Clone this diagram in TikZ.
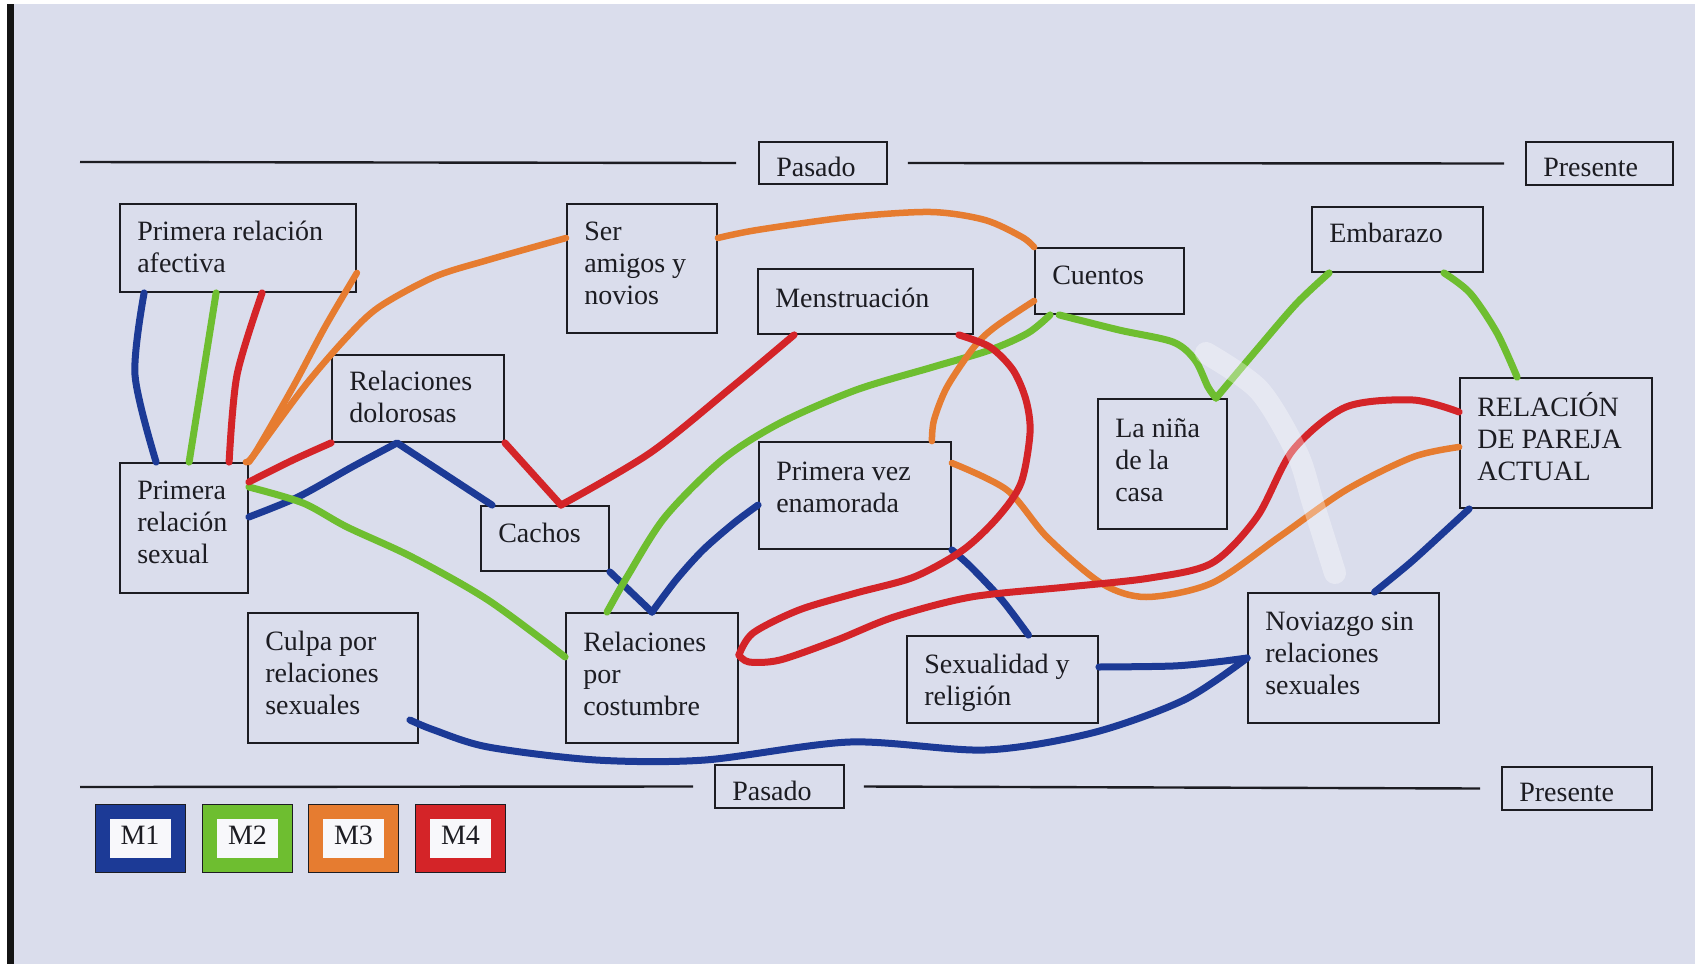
\documentclass[tikz,border=0pt]{standalone}
\usepackage{fontspec}
\setmainfont{Liberation Serif}
\usetikzlibrary{calc}
\definecolor{bg}{RGB}{218,221,236}
\definecolor{mblue}{RGB}{28,58,150}
\definecolor{mgreen}{RGB}{110,190,48}
\definecolor{morange}{RGB}{230,124,48}
\definecolor{mred}{RGB}{212,36,40}
\definecolor{ink}{RGB}{28,28,34}
\newcommand{\cnode}[7]{%
  \node[box, minimum width=#4pt, minimum height=#5pt] (#1) at (#2,#3) {};
  \node[lbl, anchor=west] (#1-t) at ([xshift=18pt,yshift=#6pt]#1.west) {#7};}
\begin{document}
\begin{tikzpicture}[x=1pt,y=-1pt,
  box/.style={draw=ink, line width=1.8pt, inner sep=0pt, anchor=center},
  lbl/.style={align=flush left, inner sep=0pt, font=\fontsize{28}{32}\selectfont, text=ink},
  tl/.style={draw=ink, line width=2.4pt},
  leg/.style={draw=#1, line width=14pt, minimum width=75pt, minimum height=53pt,
    inner sep=0pt, fill=white!80!bg, text=ink, font=\fontsize{28}{32}\selectfont,
    preaction={draw=ink, line width=16pt}},
  link/.style={line width=7pt, line cap=round, line join=round},
  b/.style={link, draw=mblue},
  g/.style={link, draw=mgreen},
  o/.style={link, draw=morange, line width=6.5pt},
  r/.style={link, draw=mred},
]
\useasboundingbox (0,0) rectangle (1695,964);
\fill[white] (0,0) rectangle (1695,964);
\fill[bg] (14,4) rectangle (1695,964);
\fill[black!92] (7,4) rectangle (14,964);

% time boxes
\cnode{pA}{823}{163}{128}{42}{-4.3}{Pasado}
\cnode{prA}{1599.5}{163.5}{147}{43}{-4.3}{Presente}
\cnode{pB}{779.5}{786.5}{129}{43}{-4.3}{Pasado}
\cnode{prB}{1577}{788.5}{150}{43}{-4.3}{Presente}
\coordinate (tA) at (80,162);
\coordinate (tB) at (80,787);
\draw[tl] (tA) -- ([xshift=-22pt]pA.west);
\draw[tl] ([xshift=20pt]pA.east) -- ([xshift=-21pt]prA.west);
\draw[tl] (tB) -- ([xshift=-21pt]pB.west);
\draw[tl] ([xshift=19pt]pB.east) -- ([xshift=-21pt]prB.west);

% concept boxes
\cnode{afe}{238}{248}{236}{88}{1}{Primera relación\\afectiva}
\cnode{ser}{642}{268.5}{150}{129}{5.4}{Ser\\amigos y\\novios}
\cnode{dol}{418}{398.5}{172}{87}{1.6}{Relaciones\\dolorosas}
\cnode{sex}{184}{528}{128}{130}{5.4}{Primera\\relación\\sexual}
\cnode{cac}{545}{538.5}{128}{65}{5.4}{Cachos}
\cnode{men}{865.5}{301.5}{215}{65}{3.2}{Menstruación}
\cnode{cue}{1109.5}{281}{149}{66}{5.4}{Cuentos}
\cnode{emb}{1397.5}{239.5}{171}{65}{6.5}{Embarazo}
\cnode{nin}{1162.5}{464}{129}{130}{4.3}{La niña\\de la\\casa}
\cnode{rel}{1556}{443}{192}{130}{6}{RELACIÓN\\DE PAREJA\\ACTUAL}
\cnode{pv}{855}{495.5}{192}{107}{8}{Primera vez\\enamorada}
\cnode{cos}{652}{678}{172}{130}{4.3}{Relaciones\\por\\costumbre}
\cnode{cul}{333}{678}{170}{130}{4.7}{Culpa por\\relaciones\\sexuales}
\cnode{sxr}{1002.5}{679.5}{191}{87}{-3.2}{Sexualidad y\\religión}
\cnode{nov}{1343.5}{658}{191}{130}{4.7}{Noviazgo sin\\relaciones\\sexuales}

% legend
\node[leg=mblue] (m1) at (140,838.5) {\raisebox{6pt}{M1}};
\node[leg=mgreen] (m2) at (247.5,838.5) {\raisebox{6pt}{M2}};
\node[leg=morange] (m3) at (353.5,838.5) {\raisebox{6pt}{M3}};
\node[leg=mred] (m4) at (460.5,838.5) {\raisebox{6pt}{M4}};

% M1 blue
\draw[b] plot[smooth] coordinates {([xshift=25pt]afe.south west) (135,375) ([xshift=37pt]sex.north west)};
\draw[b] plot[smooth] coordinates {([yshift=11pt]sex.east) (298,497) (352,467) ([xshift=66pt]dol.south west)} -- ([xshift=12pt]cac.north west);
\draw[b] (cac.south east) -- (cos.north);
\draw[b] plot[smooth] coordinates {(cos.north) (676,580) (703,550) (734,523) ([yshift=-9.5pt]pv.west)};
\draw[b] plot[smooth] coordinates {(pv.south east) (971,567) (1002,600) ([xshift=26pt]sxr.north)};
\draw[b] plot[smooth] coordinates {([yshift=12.5pt]sxr.east) (1173,666) (1216,662) (nov.west)};
\draw[b] plot[smooth] coordinates {([xshift=-9pt,yshift=-42pt]cul.east) (434,730) (488,747) (596,760) (705,760) (850,742) (985,750) (1092,733) (1184,700) (nov.west)};
\draw[b] plot[smooth] coordinates {([xshift=10pt]rel.south west) (1443,533) (1410,563) ([xshift=31pt]nov.north)};

% M2 green
\draw[g] plot[smooth] coordinates {([xshift=97pt]afe.south west) (203,375) ([xshift=70pt]sex.north west)};
\draw[g] plot[smooth] coordinates {([yshift=41pt]sex.east) (303,503) (347,527) (412,557) (488,600) ([yshift=21pt]cos.west)};
\draw[g] plot[smooth] coordinates {([xshift=-45pt]cos.north) (627,577) (665,517) (722,460) (780,423) (856,390) (933,367) (990,350) (1028,333) ([xshift=16pt]cue.south west)};
\draw[g] plot[smooth] coordinates {([xshift=25pt]cue.south west) (1119,330) (1173,342) (1195,360) (1208,387) ([xshift=53.5pt]nin.north)};
\draw[g] plot[smooth] coordinates {([xshift=53.5pt]nin.north) (1259,347) (1297,303) ([xshift=18pt]emb.south west)};
\draw[g] plot[smooth] coordinates {([xshift=-40pt]emb.south east) (1470,293) (1497,333) ([xshift=58pt]rel.north west)};

% M3 orange
\draw[o] plot[smooth] coordinates {([yshift=20pt]afe.south east) (325,327) (293,387) (255,453) ([xshift=-3pt]sex.north east)};
\draw[o] plot[smooth] coordinates {([yshift=30.5pt]ser.west) (488,260) (434,277) (379,307) (347,337) (304,387) (sex.north east)};
\draw[o] plot[smooth] coordinates {([yshift=30.5pt]ser.east) (757,230) (850,217) (931,212) (985,220) (1022,237) (cue.north west)};
\draw[o] plot[smooth] coordinates {([yshift=14pt]cue.south west) (995,327) (974,347) (947,387) (934,420) ([xshift=-20pt]pv.north east)};
\draw[o] plot[smooth] coordinates {([yshift=32.5pt]pv.east) (1007,490) (1047,537) (1101,583) (1146,597) (1212,583) (1279,537) (1346,490) (1413,457) ([yshift=-4pt]rel.west)};

% M4 red
\draw[r] plot[smooth] coordinates {([xshift=143pt]afe.south west) (237,375) ([xshift=110pt]sex.north west)};
\draw[r] plot[smooth] coordinates {(dol.south west) (293,460) ([yshift=46pt]sex.east)};
\draw[r] (dol.south east) -- ([xshift=16pt]cac.north);
\draw[r] plot[smooth] coordinates {([xshift=16pt]cac.north) (650,453) (732,387) ([xshift=37pt]men.south west)};
\draw[r] plot[smooth] coordinates {([xshift=-15pt]men.south east) (990,347) (1013,370) (1026,400) (1030,433) (1021,483) (998,517) (963,550) (914,577) (856,593) (799,610) (753,633) ([yshift=23pt]cos.east)};
\draw[r] plot[smooth] coordinates {([yshift=23pt]cos.east) (749,662) (780,660) (837,640) (894,617) (971,597) (1067,587) (1150,578) (1212,563) (1257,517) (1293,450) (1346,407) (1413,400) ([yshift=31pt]rel.west)};

% correction-fluid smear
\draw[white, opacity=0.35, line width=22pt, line cap=round] plot[smooth] coordinates {(1206,353) (1259,390) (1297,453) (1313,503) (1335,573)};
\end{tikzpicture}
\end{document}
